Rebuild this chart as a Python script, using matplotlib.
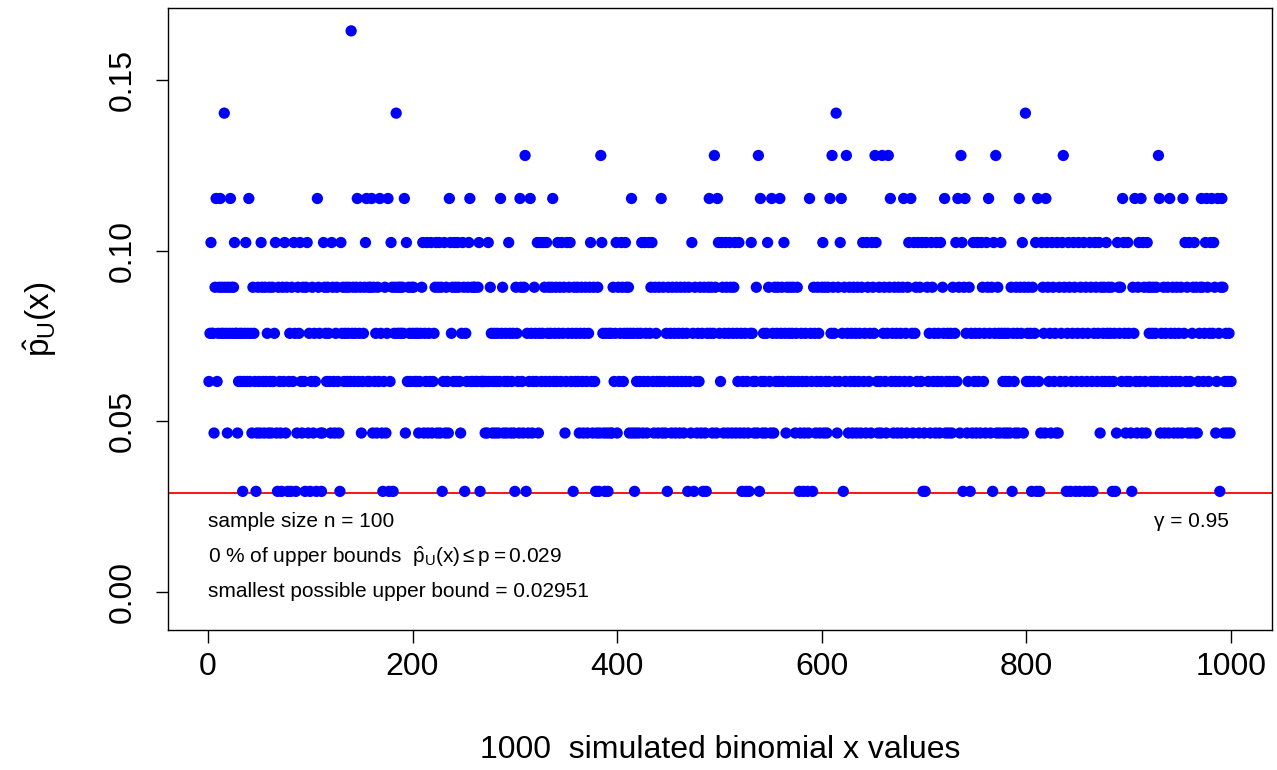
import numpy as np
import matplotlib
matplotlib.use('Agg')
import matplotlib.pyplot as plt

plt.rcParams['font.family'] = ['Liberation Sans', 'DejaVu Sans']
plt.rcParams['mathtext.fontset'] = 'custom'
plt.rcParams['mathtext.rm'] = 'Liberation Sans'
plt.rcParams['mathtext.it'] = 'Liberation Sans:italic'
plt.rcParams['mathtext.sf'] = 'Liberation Sans'

n = 100
gamma = 0.95
p_true = 0.029

# upper confidence bound for each observed count x = 0..10 (read from the y positions)
upper_bound = [0.02951, 0.0466, 0.0617, 0.0758, 0.0893, 0.1024,
               0.1153, 0.1279, 0.1403, 0.1524, 0.1644]

# observed counts x for the 1000 simulations, one hex digit each (a = 10)
x_rows = [
    "2353314623" "4634384314" "3643453312" "3230235236" "2314320142"
    "1542142314" "2142351042" "1042514023" "0425301435" "2142045130",
    "2413206431" "0154324321" "5421342105" "342342342a" "3423462341"
    "2345624246" "1423142631" "0241360254" "0348343434" "3615243243",
    "4232312345" "1325132512" "3451451402" "5142165342" "5425421354"
    "0324562424" "4224502222" "1215243123" "1231263412" "3125312310",
    "4321642147" "0312631243" "2513523542" "5342346234" "2534253412"
    "5345230423" "4213421342" "1345214201" "4017531031" "0313142351",
    "4235423543" "4136130123" "1235125312" "5345214321" "4261421304"
    "2314231423" "1423142304" "2153042132" "4130410346" "3413741653",
    "2541354135" "4134513251" "3021302103" "5321241706" "2132135421"
    "6314234263" "4253142342" "3421342013" "2013201632" "0431243124",
    "5142142637" "4328142563" "0427314231" "4231423145" "2315423154"
    "3752142173" "4213746231" "4231423146" "2314526315" "3425142501",
    "0542315423" "1523152436" "1231231423" "5264175046" "3124031523"
    "1523154231" "5463140537" "1431532132" "1321403214" "3164351482",
    "3423042350" "6201543165" "4231542315" "1423574203" "5402354023"
    "5042350423" "0542035423" "5142342534" "2340230154" "3426531253",
    "2104362145" "2615421543" "4234234276" "1324132416" "3241324132"
    "4163524152" "1345141234" "6423564235" "6354126304" "6412312312",
]

x_counts = np.array([int(c, 16) for c in ''.join(x_rows)])
pU = np.array(upper_bound)[x_counts]
sim = np.arange(1, len(x_counts) + 1)

W, H = 1277, 770
fig = plt.figure(figsize=(W / 100, H / 100), dpi=100)
ax = fig.add_axes([168 / W, 1 - 630 / H, (1272 - 168) / W, (630 - 8) / H])

ax.scatter(sim, pU, s=66, c='blue', edgecolors='none', zorder=3)
ax.axhline(p_true, color='red', lw=1.3, zorder=2)

ax.set_xlim(-39, 1040)
ax.set_ylim(-0.0111, 0.1711)
ax.set_xticks([0, 200, 400, 600, 800, 1000])
ax.set_yticks([0, 0.05, 0.10, 0.15])
ax.set_yticklabels(['0.00', '0.05', '0.10', '0.15'])
ax.tick_params(axis='both', direction='out', length=9, width=1, labelsize=23)
ax.tick_params(axis='x', pad=7)
ax.tick_params(axis='y', pad=13)
for lab in ax.get_yticklabels():
    lab.set_rotation(90)
    lab.set_va('center')
    lab.set_ha('right')
for s in ax.spines.values():
    s.set_linewidth(1)

fs = 15
ax.text(0, 0.0208, f'sample size n = {n}', fontsize=fs, ha='left', va='center')
ax.text(0, 0.0103, '0 % of upper bounds  ' + r'$\hat{\mathrm{p}}_{\mathrm{U}}\mathrm{(x)} \leq \mathrm{p} = 0.029$',
        fontsize=fs, ha='left', va='center')
ax.text(0, 0.0003, 'smallest possible upper bound = 0.02951', fontsize=fs, ha='left', va='center')
ax.text(998, 0.0208, f'γ = {gamma}', fontsize=fs, ha='right', va='center')

fig.text(720 / W, 1 - 750 / H, '1000  simulated binomial x values', fontsize=23,
         ha='center', va='center')
fig.text(40 / W, 1 - 319 / H, r'$\hat{\mathrm{p}}_{\mathrm{U}}\mathrm{(x)}$', fontsize=24,
         rotation=90, ha='center', va='center')

fig.savefig('out.png', dpi=100)
